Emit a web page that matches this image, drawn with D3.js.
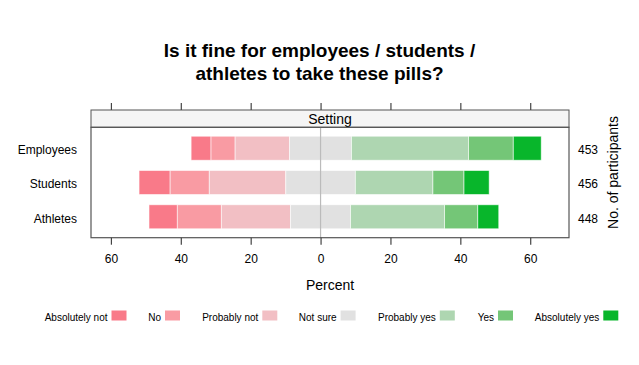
<!DOCTYPE html>
<html><head><meta charset="utf-8">
<script src="https://cdn.jsdelivr.net/npm/d3@7"></script>
<style>body{margin:0;background:#fff}svg{display:block;font-family:"Liberation Sans",Arial,sans-serif}</style>
</head><body><svg id="c" width="639" height="365"></svg>
<script>
const categories = ["Employees", "Students", "Athletes"];
const participants = [453, 456, 448];
const levels = ["Absolutely not", "No", "Probably not", "Not sure", "Probably yes", "Yes", "Absolutely yes"];
const colors = ["#F97A89", "#F99BA3", "#F2BFC4", "#E1E1E1", "#AED6B1", "#74C677", "#08B62B"];
const absolutelyNot = [5.7, 8.9, 8.1];
const no = [6.9, 11.2, 12.6];
const probablyNot = [15.6, 21.9, 19.8];
const notSure = [17.7, 19.9, 17.2];
const probablyYes = [33.5, 22.2, 26.9];
const yes = [12.8, 8.9, 9.5];
const absolutelyYes = [8.0, 7.2, 6.0];
const xTicks = [-60, -40, -20, 0, 20, 40, 60];
const titleLines = ["Is it fine for employees / students /", "athletes to take these pills?"];

const series = [absolutelyNot, no, probablyNot, notSure, probablyYes, yes, absolutelyYes];
const svg = d3.select("#c");
const P = {l: 91, r: 569, t: 110, strip: 127.3, b: 237.7};

const x = d3.scaleLinear().domain([-65.7, 71.1]).range([P.l, P.r]);
const y = d3.scalePoint().domain(categories).range([P.strip, P.b]).padding(0.61);
const barH = 24;

// title
svg.append("text").attr("x", 319.5).attr("y", 57).attr("text-anchor", "middle")
  .attr("font-size", 19).attr("font-weight", "bold").attr("fill", "#000")
  .selectAll("tspan").data(titleLines).join("tspan")
  .attr("x", 319.5).attr("dy", (d, i) => i ? 23 : 0).text(d => d);

// strip
svg.append("rect").attr("x", P.l).attr("y", P.t).attr("width", P.r - P.l).attr("height", P.strip - P.t)
  .attr("fill", "#F5F5F5").attr("stroke", "#555").attr("stroke-width", 1);
svg.append("text").attr("x", (P.l + P.r) / 2).attr("y", P.t + 13.5).attr("text-anchor", "middle")
  .attr("font-size", 14).attr("fill", "#000").text("Setting");

// bars
const g = svg.append("g");
categories.forEach((c, i) => {
  const vals = series.map(s => s[i]);
  let start = -(vals[0] + vals[1] + vals[2] + vals[3] / 2);
  vals.forEach((v, k) => {
    g.append("rect").attr("x", x(start)).attr("y", y(c) - barH / 2)
      .attr("width", x(start + v) - x(start)).attr("height", barH)
      .attr("fill", colors[k]).attr("stroke", "#fff").attr("stroke-width", 0.8).attr("stroke-opacity", 0.7);
    start += v;
  });
});

// zero line
svg.append("line").attr("x1", x(0)).attr("x2", x(0)).attr("y1", P.strip).attr("y2", P.b)
  .attr("stroke", "#bbb").attr("stroke-width", 1.2);

// panel border
svg.append("rect").attr("x", P.l).attr("y", P.strip).attr("width", P.r - P.l).attr("height", P.b - P.strip)
  .attr("fill", "none").attr("stroke", "#555").attr("stroke-width", 1.2);

// axes
const fmt = d => Math.abs(d);
const axB = svg.append("g").attr("transform", `translate(0,${P.b})`)
  .call(d3.axisBottom(x).tickValues(xTicks).tickFormat(fmt).tickSize(7).tickPadding(10));
const axT = svg.append("g").attr("transform", `translate(0,${P.t})`)
  .call(d3.axisTop(x).tickValues(xTicks).tickFormat("").tickSize(7));
[axB, axT].forEach(a => {
  a.select(".domain").remove();
  a.selectAll("line").attr("stroke", "#444").attr("stroke-width", 1.2);
  a.selectAll("text").attr("font-size", 12).attr("fill", "#000").attr("font-family", "Liberation Sans, Arial, sans-serif");
});

// y labels
const axL = svg.append("g").attr("transform", `translate(${P.l},0)`)
  .call(d3.axisLeft(y).tickSize(0).tickPadding(14));
axL.select(".domain").remove();
axL.selectAll("text").attr("font-size", 12).attr("fill", "#000").attr("dy", "0.45em").attr("font-family", "Liberation Sans, Arial, sans-serif");

const yR = d3.scalePoint().domain(participants.map(String)).range(y.range()).padding(0.61);
const axR = svg.append("g").attr("transform", `translate(${P.r},0)`)
  .call(d3.axisRight(yR).tickSize(0).tickPadding(9));
axR.select(".domain").remove();
axR.selectAll("text").attr("font-size", 12).attr("fill", "#000").attr("dy", "0.45em").attr("font-family", "Liberation Sans, Arial, sans-serif");

svg.append("text").attr("transform", `translate(618,${(P.strip + P.b) / 2 - 10}) rotate(-90)`)
  .attr("text-anchor", "middle").attr("font-size", 14).attr("fill", "#000").text("No. of participants");

svg.append("text").attr("x", (P.l + P.r) / 2).attr("y", 290).attr("text-anchor", "middle")
  .attr("font-size", 14).attr("fill", "#000").text("Percent");

// legend
const legX = [111.5, 165, 262.3, 340.6, 439.8, 498, 603.3];
const lg = svg.append("g");
levels.forEach((l, k) => {
  lg.append("rect").attr("x", legX[k]).attr("y", 310.5).attr("width", 15).attr("height", 10).attr("fill", colors[k]);
  lg.append("text").attr("x", legX[k] - 4).attr("y", 321).attr("text-anchor", "end")
    .attr("font-size", 10).attr("fill", "#000").text(l);
});
</script></body></html>
